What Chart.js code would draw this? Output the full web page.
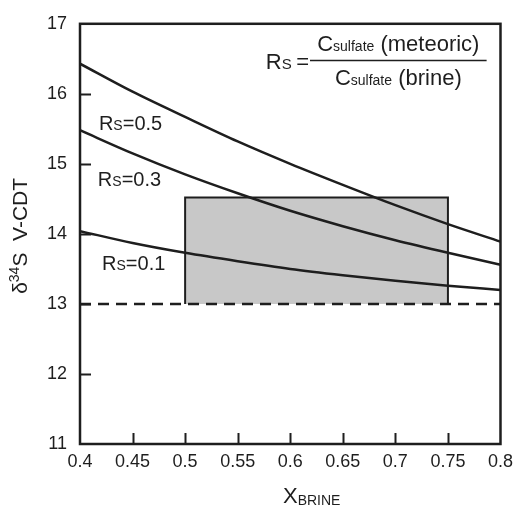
<!DOCTYPE html>
<html>
<head>
<meta charset="utf-8">
<script src="https://cdn.jsdelivr.net/npm/chart.js@4"></script>
<style>
  body { margin: 0; background: #fff; }
  canvas { display: block; }
</style>
</head>
<body>
<canvas id="chart" width="520" height="506"></canvas>
<script>
// Data
const xBrine = [0.4, 0.45, 0.5, 0.55, 0.6, 0.65, 0.7, 0.75, 0.8];
const rs05 = [16.43, 16.03, 15.67, 15.32, 15.0, 14.70, 14.41, 14.14, 13.89];
const rs03 = [15.48, 15.15, 14.85, 14.58, 14.33, 14.11, 13.91, 13.73, 13.56];
const rs01 = [14.04, 13.87, 13.73, 13.61, 13.50, 13.41, 13.33, 13.26, 13.20];

// shaded box and brine line
const boxX = [0.5, 0.5, 0.75, 0.75];
const boxY = [13, 14.52, 14.52, 13];
const brineX = [0.4, 0.8];
const brineY = [13, 13];

// axes
const xTicks = [0.4, 0.45, 0.5, 0.55, 0.6, 0.65, 0.7, 0.75, 0.8];
const xTickLabels = ["0.4", "0.45", "0.5", "0.55", "0.6", "0.65", "0.7", "0.75", "0.8"];
const yTicks = [11, 12, 13, 14, 15, 16, 17];
const yTickLabels = ["11", "12", "13", "14", "15", "16", "17"];

// curve labels
const curveLabels = ["0.5", "0.3", "0.1"];
const labelAt = [[0.418, 15.49], [0.417, 14.68], [0.421, 13.49]];

const FONT = "'Liberation Sans', Arial, sans-serif";
const INK = "#1e1e1e";

function pts(xs, ys) {
  return xs.map((x, i) => ({ x: x, y: ys[i] }));
}

function curve(ys) {
  return {
    data: pts(xBrine, ys),
    borderColor: INK,
    borderWidth: 2.5,
    pointRadius: 0,
    fill: false,
    cubicInterpolationMode: "monotone"
  };
}

// draws text pieces one after another: [text, size, dy]
function drawRun(ctx, parts, x, y) {
  parts.forEach(p => {
    ctx.font = p[1] + "px " + FONT;
    ctx.fillText(p[0], x, y + (p[2] || 0));
    x += ctx.measureText(p[0]).width;
  });
}

function runWidth(ctx, parts) {
  let w = 0;
  parts.forEach(p => {
    ctx.font = p[1] + "px " + FONT;
    w += ctx.measureText(p[0]).width;
  });
  return w;
}

const deco = {
  id: "deco",
  afterDatasetsDraw(chart) {
    const { ctx, chartArea: a, scales: { x, y } } = chart;
    ctx.save();
    ctx.strokeStyle = INK;
    ctx.lineWidth = 2;
    ctx.beginPath();
    yTicks.slice(1, -1).forEach(v => {
      const py = Math.round(y.getPixelForValue(v)) + 0.5;
      ctx.moveTo(a.left, py);
      ctx.lineTo(a.left + 11, py);
    });
    xTicks.slice(1, -1).forEach(v => {
      const px = Math.round(x.getPixelForValue(v)) + 0.5;
      ctx.moveTo(px, a.bottom);
      ctx.lineTo(px, a.bottom - 11);
    });
    ctx.stroke();
    ctx.lineWidth = 2.5;
    ctx.strokeRect(a.left, a.top, a.right - a.left, a.bottom - a.top);

    ctx.fillStyle = INK;
    ctx.textAlign = "left";
    ctx.textBaseline = "alphabetic";

    // Rs=... labels
    curveLabels.forEach((t, i) => {
      const px = x.getPixelForValue(labelAt[i][0]);
      const py = y.getPixelForValue(labelAt[i][1]);
      drawRun(ctx, [["R", 20], ["S", 14], ["=" + t, 20]], px, py);
    });

    // Rs = C(meteoric) / C(brine)
    const l1 = x.getPixelForValue(0.6188), l2 = x.getPixelForValue(0.7868);
    const ly = Math.round(y.getPixelForValue(16.48)) + 0.5;
    ctx.lineWidth = 1.5;
    ctx.beginPath();
    ctx.moveTo(l1, ly);
    ctx.lineTo(l2, ly);
    ctx.stroke();
    const mid = (l1 + l2) / 2;
    const num = [["C", 22], ["sulfate", 14], [" (meteoric)", 22]];
    const den = [["C", 22], ["sulfate", 14], [" (brine)", 22]];
    drawRun(ctx, num, mid - runWidth(ctx, num) / 2, ly - 10);
    drawRun(ctx, den, mid - runWidth(ctx, den) / 2, ly + 24);
    const lhs = [["R", 22], ["S", 15], ["\u2009=", 22]];
    drawRun(ctx, lhs, l1 - 1 - runWidth(ctx, lhs), ly + 8);

    // y axis title
    ctx.save();
    ctx.translate(27, (a.top + a.bottom) / 2 + 2);
    ctx.rotate(-Math.PI / 2);
    const yt = [["\u03b4", 21], ["34", 14, -8], ["S  V-CDT", 21]];
    drawRun(ctx, yt, -runWidth(ctx, yt) / 2, 0);
    ctx.restore();

    // x axis title
    const xt = [["X", 22], ["BRINE", 14, 2]];
    drawRun(ctx, xt, 283, 503);
    ctx.restore();
  }
};

new Chart(document.getElementById("chart"), {
  type: "line",
  data: {
    datasets: [
      curve(rs05),
      curve(rs03),
      curve(rs01),
      {
        data: pts(brineX, brineY),
        borderColor: INK,
        borderWidth: 2.5,
        borderDash: [11, 7],
        pointRadius: 0,
        fill: false
      },
      {
        data: pts(boxX, boxY),
        borderColor: INK,
        borderWidth: 2,
        backgroundColor: "#c8c8c8",
        pointRadius: 0,
        tension: 0,
        fill: { value: 13 }
      }
    ]
  },
  options: {
    responsive: false,
    animation: false,
    layout: { padding: { left: 0, right: 14, top: 18, bottom: 0 } },
    plugins: { legend: { display: false }, tooltip: { enabled: false } },
    scales: {
      x: {
        type: "linear",
        min: 0.4,
        max: 0.8,
        afterBuildTicks: s => { s.ticks = xTicks.map(v => ({ value: v })); },
        afterFit: s => { s.height = 62; },
        grid: { display: false, drawTicks: false },
        border: { display: false },
        ticks: {
          padding: 7,
          color: INK,
          font: { family: FONT, size: 18 },
          maxRotation: 0,
          autoSkip: false,
          callback: (v, i) => xTickLabels[i]
        }
      },
      y: {
        type: "linear",
        min: 11,
        max: 17,
        afterBuildTicks: s => { s.ticks = yTicks.map(v => ({ value: v })); },
        afterFit: s => { s.width = 80; },
        grid: { display: false, drawTicks: false },
        border: { display: false },
        ticks: {
          padding: 13,
          color: INK,
          font: { family: FONT, size: 18 },
          callback: (v, i) => yTickLabels[i]
        }
      }
    }
  },
  plugins: [deco]
});
</script>
</body>
</html>
